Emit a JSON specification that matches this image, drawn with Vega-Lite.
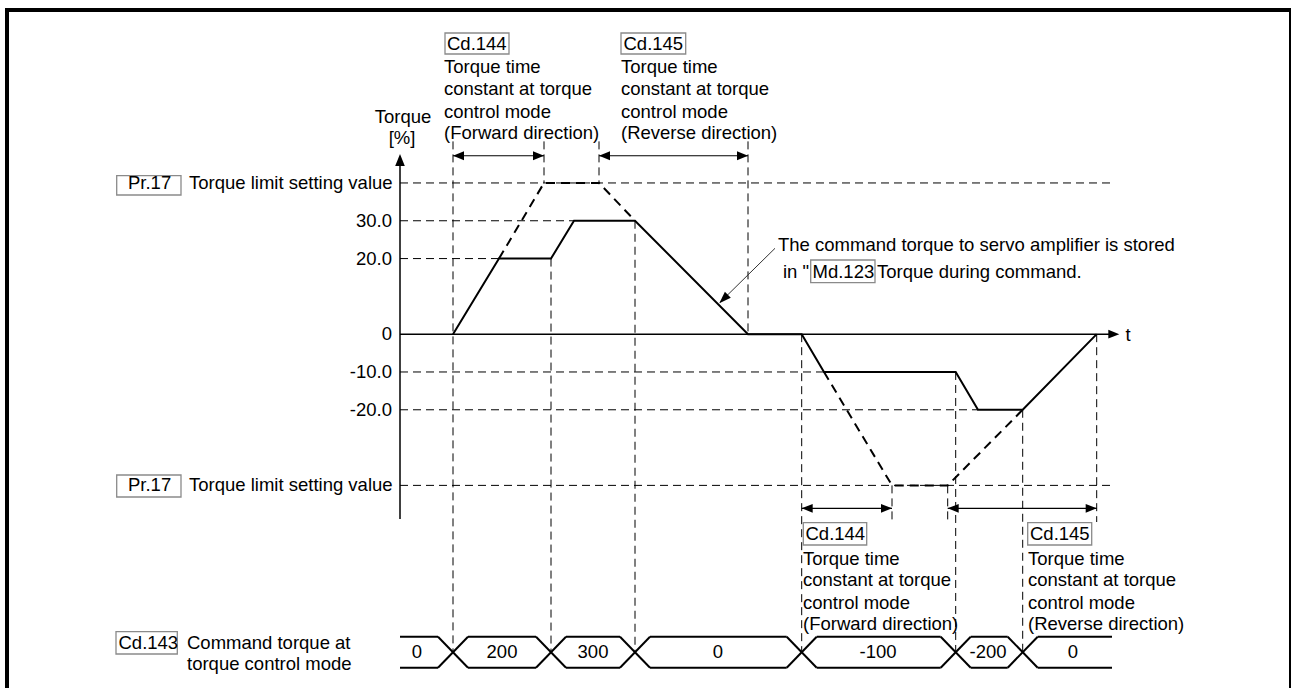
{
  "$schema": "https://vega.github.io/schema/vega-lite/v6.json",
  "width": 1292,
  "height": 688,
  "padding": 0,
  "autosize": {"type": "none"},
  "background": "white",
  "config": {"view": {"stroke": null}, "text": {"font": "Liberation Sans", "fontSize": 18.5, "color": "#000000"}},
  "datasets": {
    "frameThick": [
      {"t": 5, "t2": 1291, "v": 85.75, "v2": 85.75},
      {"t": 7, "t2": 7, "v": 86.28, "v2": -93.6}
    ],
    "frameThin": [
      {"t": 1290, "t2": 1290, "v": 86.28, "v2": -93.6}
    ],
    "gridH": [
      {"t": 400, "t2": 1111, "v": 40, "v2": 40},
      {"t": 400, "t2": 574, "v": 30, "v2": 30},
      {"t": 400, "t2": 499, "v": 20, "v2": 20},
      {"t": 400, "t2": 824, "v": -10, "v2": -10},
      {"t": 400, "t2": 978, "v": -20, "v2": -20},
      {"t": 400, "t2": 1111, "v": -40, "v2": -40}
    ],
    "gridV": [
      {"t": 453, "t2": 453, "v": 51, "v2": -84.08},
      {"t": 544, "t2": 544, "v": 51, "v2": 40},
      {"t": 551, "t2": 551, "v": 20, "v2": -84.08},
      {"t": 599, "t2": 599, "v": 51, "v2": 40},
      {"t": 635, "t2": 635, "v": 30, "v2": -84.08},
      {"t": 748, "t2": 748, "v": 51, "v2": 0},
      {"t": 801.7, "t2": 801.7, "v": 0, "v2": -84.08},
      {"t": 892, "t2": 892, "v": -40, "v2": -49.69},
      {"t": 947.7, "t2": 947.7, "v": -40, "v2": -49.69},
      {"t": 955.7, "t2": 955.7, "v": -10, "v2": -84.08},
      {"t": 1022.7, "t2": 1022.7, "v": -20, "v2": -84.08},
      {"t": 1096.7, "t2": 1096.7, "v": 0, "v2": -49.69}
    ],
    "axes": [
      {"t": 400, "t2": 400, "v": -48.9, "v2": 46.5},
      {"t": 400, "t2": 1112, "v": 0, "v2": 0}
    ],
    "intervals": [
      {"t": 453, "t2": 544, "v": 47.2, "v2": 47.2},
      {"t": 599, "t2": 748, "v": 47.2, "v2": 47.2},
      {"t": 801.7, "t2": 892, "v": -46.07, "v2": -46.07},
      {"t": 947.7, "t2": 1096.7, "v": -46.07, "v2": -46.07}
    ],
    "leader": [
      {"t": 775, "t2": 720, "v": 22.71, "v2": 8.4}
    ],
    "heads": [
      {"t": 544, "v": 47.2, "dir": "right"},
      {"t": 748, "v": 47.2, "dir": "right"},
      {"t": 892, "v": -46.07, "dir": "right"},
      {"t": 1096.7, "v": -46.07, "dir": "right"},
      {"t": 1119.3, "v": 0, "dir": "right"},
      {"t": 453, "v": 47.2, "dir": "left"},
      {"t": 599, "v": 47.2, "dir": "left"},
      {"t": 801.7, "v": -46.07, "dir": "left"},
      {"t": 947.7, "v": -46.07, "dir": "left"},
      {"t": 400, "v": 47.66, "dir": "up"},
      {"t": 719.3, "v": 8.17, "dir": "diag"}
    ],
    "torque": [
      {"i": 1, "t": 453, "v": 0},
      {"i": 2, "t": 499, "v": 20},
      {"i": 3, "t": 551, "v": 20},
      {"i": 4, "t": 574, "v": 30},
      {"i": 5, "t": 635, "v": 30},
      {"i": 6, "t": 748, "v": 0},
      {"i": 7, "t": 801.7, "v": 0},
      {"i": 8, "t": 824, "v": -10},
      {"i": 9, "t": 955.7, "v": -10},
      {"i": 10, "t": 978, "v": -20},
      {"i": 11, "t": 1022.7, "v": -20},
      {"i": 12, "t": 1096.7, "v": 0}
    ],
    "limited": [
      {"g": "fwd", "i": 1, "t": 499, "v": 20},
      {"g": "fwd", "i": 2, "t": 544, "v": 40},
      {"g": "fwd", "i": 3, "t": 599, "v": 40},
      {"g": "fwd", "i": 4, "t": 635, "v": 30},
      {"g": "rev", "i": 1, "t": 824, "v": -10},
      {"g": "rev", "i": 2, "t": 892, "v": -40},
      {"g": "rev", "i": 3, "t": 947.7, "v": -40},
      {"g": "rev", "i": 4, "t": 1022.7, "v": -20}
    ],
    "boxes": [
      {"t": 445, "t2": 509, "v": 79.67, "v2": 74.11},
      {"t": 621, "t2": 685.7, "v": 79.67, "v2": 74.11},
      {"t": 116.7, "t2": 181, "v": 41.92, "v2": 36.81},
      {"t": 116.7, "t2": 181, "v": -37.26, "v2": -43.08},
      {"t": 810.7, "t2": 875, "v": 19.62, "v2": 13.62},
      {"t": 803.3, "t2": 866.7, "v": -49.87, "v2": -55.77},
      {"t": 1027.7, "t2": 1091.7, "v": -49.87, "v2": -55.77},
      {"t": 116, "t2": 177.3, "v": -78.71, "v2": -84.6}
    ],
    "bar": [
      {"t": 400, "t2": 438, "v": -80.03, "v2": -80.03},
      {"t": 468, "t2": 536, "v": -80.03, "v2": -80.03},
      {"t": 566, "t2": 620, "v": -80.03, "v2": -80.03},
      {"t": 650, "t2": 786.7, "v": -80.03, "v2": -80.03},
      {"t": 816.7, "t2": 940.7, "v": -80.03, "v2": -80.03},
      {"t": 970.7, "t2": 1007.7, "v": -80.03, "v2": -80.03},
      {"t": 1037.7, "t2": 1112, "v": -80.03, "v2": -80.03},
      {"t": 400, "t2": 438, "v": -88.23, "v2": -88.23},
      {"t": 468, "t2": 536, "v": -88.23, "v2": -88.23},
      {"t": 566, "t2": 620, "v": -88.23, "v2": -88.23},
      {"t": 650, "t2": 786.7, "v": -88.23, "v2": -88.23},
      {"t": 816.7, "t2": 940.7, "v": -88.23, "v2": -88.23},
      {"t": 970.7, "t2": 1007.7, "v": -88.23, "v2": -88.23},
      {"t": 1037.7, "t2": 1112, "v": -88.23, "v2": -88.23},
      {"t": 438, "t2": 468, "v": -80.03, "v2": -88.23},
      {"t": 438, "t2": 468, "v": -88.23, "v2": -80.03},
      {"t": 536, "t2": 566, "v": -80.03, "v2": -88.23},
      {"t": 536, "t2": 566, "v": -88.23, "v2": -80.03},
      {"t": 620, "t2": 650, "v": -80.03, "v2": -88.23},
      {"t": 620, "t2": 650, "v": -88.23, "v2": -80.03},
      {"t": 786.7, "t2": 816.7, "v": -80.03, "v2": -88.23},
      {"t": 786.7, "t2": 816.7, "v": -88.23, "v2": -80.03},
      {"t": 940.7, "t2": 970.7, "v": -80.03, "v2": -88.23},
      {"t": 940.7, "t2": 970.7, "v": -88.23, "v2": -80.03},
      {"t": 1007.7, "t2": 1037.7, "v": -80.03, "v2": -88.23},
      {"t": 1007.7, "t2": 1037.7, "v": -88.23, "v2": -80.03}
    ],
    "textLeft": [
      {"t": 447, "v": 76.89, "label": "Cd.144"},
      {"t": 444, "v": 70.76, "label": "Torque time"},
      {"t": 444, "v": 64.78, "label": "constant at torque"},
      {"t": 444, "v": 58.85, "label": "control mode"},
      {"t": 444, "v": 53.14, "label": "(Forward direction)"},
      {"t": 623.5, "v": 76.89, "label": "Cd.145"},
      {"t": 621, "v": 70.76, "label": "Torque time"},
      {"t": 621, "v": 64.78, "label": "constant at torque"},
      {"t": 621, "v": 58.85, "label": "control mode"},
      {"t": 621, "v": 53.14, "label": "(Reverse direction)"},
      {"t": 128, "v": 40, "label": "Pr.17"},
      {"t": 189, "v": 40, "label": "Torque limit setting value"},
      {"t": 128, "v": -40, "label": "Pr.17"},
      {"t": 189, "v": -40, "label": "Torque limit setting value"},
      {"t": 778, "v": 23.59, "label": "The command torque to servo amplifier is stored"},
      {"t": 783, "v": 16.53, "label": "in \""},
      {"t": 812.5, "v": 16.53, "label": "Md.123"},
      {"t": 877, "v": 16.53, "label": "Torque during command."},
      {"t": 805.5, "v": -52.82, "label": "Cd.144"},
      {"t": 803, "v": -59.48, "label": "Torque time"},
      {"t": 803, "v": -65.03, "label": "constant at torque"},
      {"t": 803, "v": -71.04, "label": "control mode"},
      {"t": 803, "v": -76.75, "label": "(Forward direction)"},
      {"t": 1030, "v": -52.82, "label": "Cd.145"},
      {"t": 1028, "v": -59.48, "label": "Torque time"},
      {"t": 1028, "v": -65.03, "label": "constant at torque"},
      {"t": 1028, "v": -71.04, "label": "control mode"},
      {"t": 1028, "v": -76.75, "label": "(Reverse direction)"},
      {"t": 118.5, "v": -81.7, "label": "Cd.143"},
      {"t": 187, "v": -81.7, "label": "Command torque at"},
      {"t": 187, "v": -87.12, "label": "torque control mode"}
    ],
    "textRight": [
      {"t": 392, "v": 30, "label": "30.0"},
      {"t": 392, "v": 20, "label": "20.0"},
      {"t": 392, "v": 0, "label": "0"},
      {"t": 392, "v": -10, "label": "-10.0"},
      {"t": 392, "v": -20, "label": "-20.0"}
    ],
    "textCenter": [
      {"t": 403, "v": 57.45, "label": "Torque"},
      {"t": 402, "v": 51.89, "label": "[%]"},
      {"t": 1128, "v": -0.22, "label": "t"},
      {"t": 417, "v": -84.08, "label": "0"},
      {"t": 502, "v": -84.08, "label": "200"},
      {"t": 593, "v": -84.08, "label": "300"},
      {"t": 718, "v": -84.08, "label": "0"},
      {"t": 878, "v": -84.08, "label": "-100"},
      {"t": 988, "v": -84.08, "label": "-200"},
      {"t": 1073, "v": -84.08, "label": "0"}
    ]
  },
  "layer": [
    {
      "data": {"name": "frameThick"},
      "mark": {"type": "rule", "color": "#000000", "strokeWidth": 4},
      "encoding": {
        "x": {"field": "t", "type": "quantitative", "scale": {"domain": [0, 1292], "nice": false}, "axis": null},
        "x2": {"field": "t2"},
        "y": {"field": "v", "type": "quantitative", "scale": {"domain": [-93.6, 88.4], "nice": false}, "axis": null},
        "y2": {"field": "v2"}
      }
    },
    {
      "data": {"name": "frameThin"},
      "mark": {"type": "rule", "color": "#000000", "strokeWidth": 2},
      "encoding": {
        "x": {"field": "t", "type": "quantitative", "scale": {"domain": [0, 1292], "nice": false}, "axis": null},
        "x2": {"field": "t2"},
        "y": {"field": "v", "type": "quantitative", "scale": {"domain": [-93.6, 88.4], "nice": false}, "axis": null},
        "y2": {"field": "v2"}
      }
    },
    {
      "data": {"name": "gridH"},
      "mark": {"type": "rule", "color": "#000000", "strokeWidth": 1, "strokeDash": [8, 5]},
      "encoding": {
        "x": {"field": "t", "type": "quantitative", "scale": {"domain": [0, 1292], "nice": false}, "axis": null},
        "x2": {"field": "t2"},
        "y": {"field": "v", "type": "quantitative", "scale": {"domain": [-93.6, 88.4], "nice": false}, "axis": null},
        "y2": {"field": "v2"}
      }
    },
    {
      "data": {"name": "gridV"},
      "mark": {"type": "rule", "color": "#000000", "strokeWidth": 1, "strokeDash": [8, 5]},
      "encoding": {
        "x": {"field": "t", "type": "quantitative", "scale": {"domain": [0, 1292], "nice": false}, "axis": null},
        "x2": {"field": "t2"},
        "y": {"field": "v", "type": "quantitative", "scale": {"domain": [-93.6, 88.4], "nice": false}, "axis": null},
        "y2": {"field": "v2"}
      }
    },
    {
      "data": {"name": "axes"},
      "mark": {"type": "rule", "color": "#000000", "strokeWidth": 1.5},
      "encoding": {
        "x": {"field": "t", "type": "quantitative", "scale": {"domain": [0, 1292], "nice": false}, "axis": null},
        "x2": {"field": "t2"},
        "y": {"field": "v", "type": "quantitative", "scale": {"domain": [-93.6, 88.4], "nice": false}, "axis": null},
        "y2": {"field": "v2"}
      }
    },
    {
      "data": {"name": "intervals"},
      "mark": {"type": "rule", "color": "#000000", "strokeWidth": 1.2},
      "encoding": {
        "x": {"field": "t", "type": "quantitative", "scale": {"domain": [0, 1292], "nice": false}, "axis": null},
        "x2": {"field": "t2"},
        "y": {"field": "v", "type": "quantitative", "scale": {"domain": [-93.6, 88.4], "nice": false}, "axis": null},
        "y2": {"field": "v2"}
      }
    },
    {
      "data": {"name": "leader"},
      "mark": {"type": "rule", "color": "#333333", "strokeWidth": 1},
      "encoding": {
        "x": {"field": "t", "type": "quantitative", "scale": {"domain": [0, 1292], "nice": false}, "axis": null},
        "x2": {"field": "t2"},
        "y": {"field": "v", "type": "quantitative", "scale": {"domain": [-93.6, 88.4], "nice": false}, "axis": null},
        "y2": {"field": "v2"}
      }
    },
    {
      "data": {"name": "torque"},
      "mark": {"type": "line", "color": "#000000", "strokeWidth": 2},
      "encoding": {
        "x": {"field": "t", "type": "quantitative", "scale": {"domain": [0, 1292], "nice": false}, "axis": null},
        "y": {"field": "v", "type": "quantitative", "scale": {"domain": [-93.6, 88.4], "nice": false}, "axis": null},
        "order": {"field": "i", "type": "quantitative"}
      }
    },
    {
      "data": {"name": "limited"},
      "mark": {"type": "line", "color": "#000000", "strokeWidth": 2, "strokeDash": [9, 6]},
      "encoding": {
        "x": {"field": "t", "type": "quantitative", "scale": {"domain": [0, 1292], "nice": false}, "axis": null},
        "y": {"field": "v", "type": "quantitative", "scale": {"domain": [-93.6, 88.4], "nice": false}, "axis": null},
        "detail": {"field": "g", "type": "nominal"},
        "order": {"field": "i", "type": "quantitative"}
      }
    },
    {
      "data": {"name": "bar"},
      "mark": {"type": "rule", "color": "#000000", "strokeWidth": 2},
      "encoding": {
        "x": {"field": "t", "type": "quantitative", "scale": {"domain": [0, 1292], "nice": false}, "axis": null},
        "x2": {"field": "t2"},
        "y": {"field": "v", "type": "quantitative", "scale": {"domain": [-93.6, 88.4], "nice": false}, "axis": null},
        "y2": {"field": "v2"}
      }
    },
    {
      "data": {"name": "boxes"},
      "mark": {"type": "rect", "fill": null, "stroke": "#8a8a8a", "strokeWidth": 1.3},
      "encoding": {
        "x": {"field": "t", "type": "quantitative", "scale": {"domain": [0, 1292], "nice": false}, "axis": null},
        "x2": {"field": "t2"},
        "y": {"field": "v", "type": "quantitative", "scale": {"domain": [-93.6, 88.4], "nice": false}, "axis": null},
        "y2": {"field": "v2"}
      }
    },
    {
      "data": {"name": "heads"},
      "transform": [{"filter": "datum.dir === 'right'"}],
      "mark": {"type": "point", "shape": "M0,0L-2,-0.8L-2,0.8Z", "size": 121, "filled": true, "color": "#000000", "opacity": 1, "strokeWidth": 0, "angle": 0},
      "encoding": {
        "x": {"field": "t", "type": "quantitative", "scale": {"domain": [0, 1292], "nice": false}, "axis": null},
        "y": {"field": "v", "type": "quantitative", "scale": {"domain": [-93.6, 88.4], "nice": false}, "axis": null}
      }
    },
    {
      "data": {"name": "heads"},
      "transform": [{"filter": "datum.dir === 'left'"}],
      "mark": {"type": "point", "shape": "M0,0L-2,-0.8L-2,0.8Z", "size": 121, "filled": true, "color": "#000000", "opacity": 1, "strokeWidth": 0, "angle": 180},
      "encoding": {
        "x": {"field": "t", "type": "quantitative", "scale": {"domain": [0, 1292], "nice": false}, "axis": null},
        "y": {"field": "v", "type": "quantitative", "scale": {"domain": [-93.6, 88.4], "nice": false}, "axis": null}
      }
    },
    {
      "data": {"name": "heads"},
      "transform": [{"filter": "datum.dir === 'up'"}],
      "mark": {"type": "point", "shape": "M0,0L-2,-0.8L-2,0.8Z", "size": 144, "filled": true, "color": "#000000", "opacity": 1, "strokeWidth": 0, "angle": 270},
      "encoding": {
        "x": {"field": "t", "type": "quantitative", "scale": {"domain": [0, 1292], "nice": false}, "axis": null},
        "y": {"field": "v", "type": "quantitative", "scale": {"domain": [-93.6, 88.4], "nice": false}, "axis": null}
      }
    },
    {
      "data": {"name": "heads"},
      "transform": [{"filter": "datum.dir === 'diag'"}],
      "mark": {"type": "point", "shape": "M0,0L-2,-0.7L-2,0.7Z", "size": 144, "filled": true, "color": "#000000", "opacity": 1, "strokeWidth": 0, "angle": 135.4},
      "encoding": {
        "x": {"field": "t", "type": "quantitative", "scale": {"domain": [0, 1292], "nice": false}, "axis": null},
        "y": {"field": "v", "type": "quantitative", "scale": {"domain": [-93.6, 88.4], "nice": false}, "axis": null}
      }
    },
    {
      "data": {"name": "textLeft"},
      "mark": {"type": "text", "align": "left", "baseline": "middle"},
      "encoding": {
        "x": {"field": "t", "type": "quantitative", "scale": {"domain": [0, 1292], "nice": false}, "axis": null},
        "y": {"field": "v", "type": "quantitative", "scale": {"domain": [-93.6, 88.4], "nice": false}, "axis": null},
        "text": {"field": "label"}
      }
    },
    {
      "data": {"name": "textRight"},
      "mark": {"type": "text", "align": "right", "baseline": "middle"},
      "encoding": {
        "x": {"field": "t", "type": "quantitative", "scale": {"domain": [0, 1292], "nice": false}, "axis": null},
        "y": {"field": "v", "type": "quantitative", "scale": {"domain": [-93.6, 88.4], "nice": false}, "axis": null},
        "text": {"field": "label"}
      }
    },
    {
      "data": {"name": "textCenter"},
      "mark": {"type": "text", "align": "center", "baseline": "middle"},
      "encoding": {
        "x": {"field": "t", "type": "quantitative", "scale": {"domain": [0, 1292], "nice": false}, "axis": null},
        "y": {"field": "v", "type": "quantitative", "scale": {"domain": [-93.6, 88.4], "nice": false}, "axis": null},
        "text": {"field": "label"}
      }
    }
  ]
}
